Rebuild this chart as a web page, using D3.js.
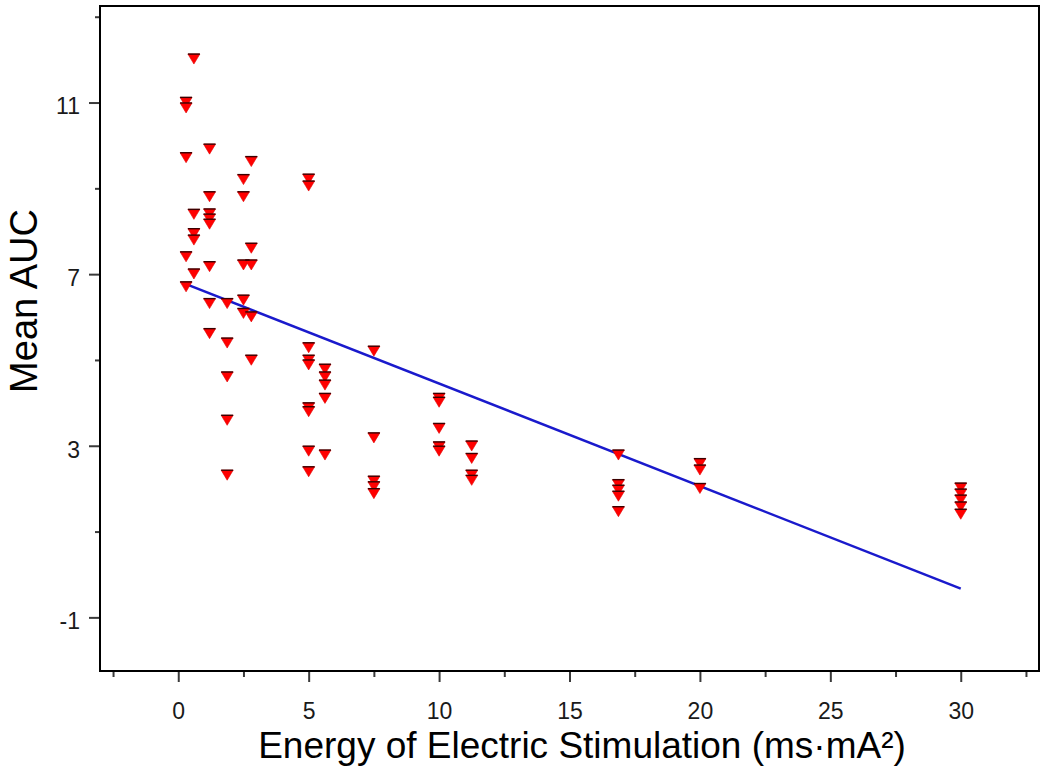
<!DOCTYPE html>
<html>
<head>
<meta charset="utf-8">
<script src="https://cdn.jsdelivr.net/npm/d3@7"></script>
<style>
  html, body { margin: 0; padding: 0; background: #fff; }
  svg { display: block; font-family: "Liberation Sans", Arial, sans-serif; }
</style>
</head>
<body>
<svg id="chart" width="1050" height="766"></svg>
<script>
// ---- data ----
const energy = [
  0.3, 0.3, 0.3, 0.3, 0.3,
  0.6, 0.6, 0.6, 0.6, 0.6,
  1.2, 1.2, 1.2, 1.2, 1.2, 1.2, 1.2, 1.2,
  1.875, 1.875, 1.875, 1.875, 1.875,
  2.5, 2.5, 2.5, 2.5, 2.5,
  2.8, 2.8, 2.8, 2.8, 2.8,
  5, 5, 5, 5, 5, 5, 5, 5, 5,
  5.625, 5.625, 5.625, 5.625, 5.625,
  7.5, 7.5, 7.5, 7.5, 7.5,
  10, 10, 10, 10, 10,
  11.25, 11.25, 11.25, 11.25,
  16.875, 16.875, 16.875, 16.875, 16.875,
  20, 20, 20,
  30, 30, 30, 30, 30
];
const meanAUC = [
  11.05, 10.92, 9.76, 7.45, 6.75,
  12.06, 8.44, 7.99, 7.84, 7.05,
  9.96, 8.85, 8.45, 8.33, 8.21, 7.22, 6.36, 5.66,
  6.36, 5.44, 4.65, 3.64, 2.36,
  9.25, 8.85, 7.26, 6.44, 6.13,
  9.67, 7.65, 7.26, 6.05, 5.04,
  9.26, 9.10, 5.33, 5.04, 4.93, 3.93, 3.84, 2.92, 2.44,
  4.83, 4.65, 4.46, 4.15, 2.83,
  5.25, 3.23, 2.22, 2.09, 1.93,
  4.15, 4.06, 3.45, 3.02, 2.92,
  3.04, 2.75, 2.36, 2.24,
  2.83, 2.14, 2.01, 1.87, 1.51,
  2.63, 2.48, 2.05,
  2.06, 1.92, 1.78, 1.62, 1.45
];
// fitted regression line (intercept, slope), drawn across the data range
const fitIntercept = 6.84;
const fitSlope = -0.239;

const xMajorTicks = [0, 5, 10, 15, 20, 25, 30];
const xMinorTicks = [-2.5, 2.5, 7.5, 12.5, 17.5, 22.5, 27.5, 32.5];
const yMajorTicks = [-1, 3, 7, 11];
const yMinorTicks = [1, 5, 9, 13];

const xTitle = "Energy of Electric Stimulation (ms\u00B7mA\u00B2)";
const yTitle = "Mean AUC";

// ---- layout ----
const svg = d3.select("#chart");
const L = 100, R = 1039, T = 6, B = 671;
const x = d3.scaleLinear().domain([-3, 33]).range([L, R]);
const y = d3.scaleLinear().domain([-2.25, 13.25]).range([B, T]);

const fmt = d => String(d);
const xAxisMajor = d3.axisBottom(x).tickValues(xMajorTicks).tickSize(11).tickPadding(21).tickFormat(fmt);
const xAxisMinor = d3.axisBottom(x).tickValues(xMinorTicks).tickSize(6).tickFormat("");
const yAxisMajor = d3.axisLeft(y).tickValues(yMajorTicks).tickSize(11).tickPadding(9).tickFormat(fmt);
const yAxisMinor = d3.axisLeft(y).tickValues(yMinorTicks).tickSize(5).tickFormat("");

function styleAxis(g) {
  g.select(".domain").remove();
  g.selectAll(".tick line").attr("stroke", "#3a3a3a").attr("stroke-width", 2);
  g.selectAll(".tick text").attr("fill", "#1a1a1a").attr("font-size", 23)
    .attr("font-family", "'Liberation Sans', Arial, sans-serif");
}

svg.append("g").attr("transform", `translate(0,${B})`).call(xAxisMajor).call(styleAxis);
svg.append("g").attr("transform", `translate(0,${B})`).call(xAxisMinor).call(styleAxis);
svg.append("g").attr("transform", `translate(${L},0)`).call(yAxisMajor).call(styleAxis)
  .selectAll(".tick text").attr("dy", "0.62em").attr("y", -3);
svg.append("g").attr("transform", `translate(${L},0)`).call(yAxisMinor).call(styleAxis);

// frame
svg.append("rect").attr("x", L).attr("y", T).attr("width", R - L).attr("height", B - T)
  .attr("fill", "none").attr("stroke", "#000").attr("stroke-width", 2);

// regression line
const xr = d3.extent(energy);
svg.append("line")
  .attr("x1", x(xr[0])).attr("y1", y(fitIntercept + fitSlope * xr[0]))
  .attr("x2", x(xr[1])).attr("y2", y(fitIntercept + fitSlope * xr[1]))
  .attr("stroke", "#1a1acc").attr("stroke-width", 2.5);

// markers: downward triangles with dark top edge
const pts = energy.map((e, i) => ({ e, v: meanAUC[i] }));
const mk = svg.append("g");
const hw = 6, up = 3, dn = 7;
mk.selectAll("path.tri").data(pts).join("path").attr("class", "tri")
  .attr("d", d => {
    const cx = x(d.e), cy = y(d.v);
    return `M${cx - hw},${cy - up}L${cx + hw},${cy - up}L${cx},${cy + dn}Z`;
  })
  .attr("fill", "#ff0000").attr("stroke", "#e00000").attr("stroke-width", 0.6);
mk.selectAll("line.top").data(pts).join("line").attr("class", "top")
  .attr("x1", d => x(d.e) - hw).attr("x2", d => x(d.e) + hw)
  .attr("y1", d => y(d.v) - up).attr("y2", d => y(d.v) - up)
  .attr("stroke", "#3a0000").attr("stroke-width", 1.4);

// titles
svg.append("text").attr("x", 582).attr("y", 758).attr("text-anchor", "middle")
  .attr("font-size", 37).attr("fill", "#000").text(xTitle);
svg.append("text").attr("transform", "translate(37,301) rotate(-90)").attr("text-anchor", "middle")
  .attr("font-size", 38).attr("fill", "#000").text(yTitle);
</script>
</body>
</html>
